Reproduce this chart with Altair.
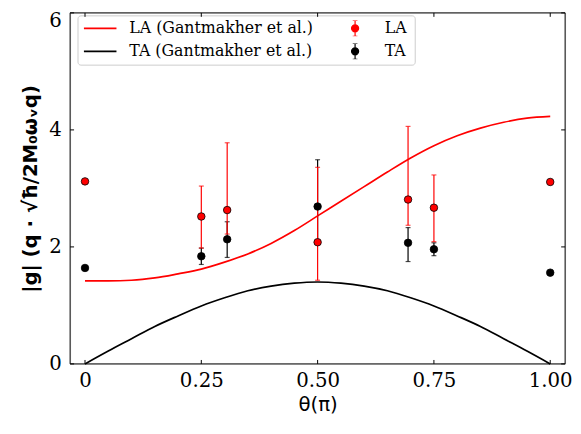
import altair as alt
import pandas as pd

# ---- data ----
curve_theta = [0.0, 0.05, 0.10, 0.15, 0.20, 0.25, 0.30, 0.35, 0.40, 0.45, 0.50,
               0.55, 0.60, 0.65, 0.70, 0.75, 0.80, 0.85, 0.90, 0.95, 1.0]
la_curve = [1.42, 1.42, 1.43, 1.47, 1.54, 1.62, 1.74, 1.88, 2.06, 2.28, 2.53,
            2.78, 3.03, 3.28, 3.52, 3.73, 3.90, 4.03, 4.13, 4.20, 4.23]
ta_curve = [0.0, 0.22, 0.43, 0.64, 0.82, 0.99, 1.13, 1.25, 1.33, 1.38, 1.40,
            1.38, 1.33, 1.25, 1.13, 0.99, 0.82, 0.64, 0.43, 0.22, 0.0]

pt_theta = [0.0, 0.25, 0.3056, 0.5, 0.6944, 0.75, 1.0]
la_val = [3.12, 2.52, 2.63, 2.08, 2.81, 2.67, 3.11]
la_lo = [None, 1.98, 2.22, 1.43, 2.37, 2.09, None]
la_hi = [None, 3.04, 3.78, 3.36, 4.06, 3.23, None]
ta_val = [1.64, 1.84, 2.13, 2.69, 2.07, 1.96, 1.56]
ta_lo = [None, 1.70, 1.82, 2.05, 1.75, 1.85, None]
ta_hi = [None, 1.98, 2.43, 3.49, 2.33, 2.07, None]

curve_names = ["LA (Gantmakher et al.)", "TA (Gantmakher et al.)"]
point_names = ["LA", "TA"]
x_ticks = [0, 0.25, 0.5, 0.75, 1.0]
y_ticks = [0, 2, 4, 6]

# ---- tables ----
curves = pd.concat([
    pd.DataFrame({"theta": curve_theta, "g": la_curve, "series": curve_names[0]}),
    pd.DataFrame({"theta": curve_theta, "g": ta_curve, "series": curve_names[1]}),
])
la_df = pd.DataFrame({"theta": pt_theta, "g": la_val, "lo": la_lo, "hi": la_hi, "series": "LA"})
ta_df = pd.DataFrame({"theta": pt_theta, "g": ta_val, "lo": ta_lo, "hi": ta_hi, "series": "TA"})
pts = pd.concat([la_df, ta_df])
xt = pd.DataFrame({"t": x_ticks})
yt = pd.DataFrame({"t": y_ticks})

W, H = 502, 356
RED = "#ff0000"
SERIF = "DejaVu Serif"
xs = alt.Scale(domain=[-0.032, 1.032], nice=False, zero=False)
ys = alt.Scale(domain=[0, 6], nice=False, zero=False)

x_axis = alt.Axis(values=x_ticks, title="θ(π)",
                  labelExpr="datum.value == 0 ? '0' : format(datum.value, '.2f')",
                  labelFont=SERIF, labelFontSize=20, labelColor="black",
                  titleFont="DejaVu Sans", titleFontSize=20, titleFontWeight="normal",
                  titleColor="black", titlePadding=4,
                  ticks=False, tickSize=0, domain=False, grid=False, labelPadding=7,
                  labelFlush=False)
y_axis = alt.Axis(values=y_ticks, title="|g| (q · √ħ/2M₀ωᵥq)", format="d",
                  labelFont=SERIF, labelFontSize=20, labelColor="black",
                  labelOffset={"condition": {"test": "datum.value == 6", "value": 8},
                               "value": 0},
                  titleFont="DejaVu Sans", titleFontSize=20, titleFontWeight="bold",
                  titleColor="black", titlePadding=8,
                  ticks=False, tickSize=0, domain=False, grid=False, labelPadding=9,
                  labelFlush=False)


def X(field):
    return alt.X(field, scale=xs, axis=x_axis)


def Y(field):
    return alt.Y(field, scale=ys, axis=y_axis)


lines = alt.Chart(curves).mark_line(strokeWidth=1.7, interpolate="monotone").encode(
    x=X("theta:Q"),
    y=Y("g:Q"),
    color=alt.Color("series:N",
                    scale=alt.Scale(domain=curve_names, range=[RED, "black"]),
                    legend=alt.Legend(orient="none", legendX=13, legendY=7.7,
                                      symbolType="stroke", symbolSize=1089,
                                      symbolStrokeWidth=1.6,
                                      labelFont=SERIF, labelFontSize=16,
                                      labelColor="black", labelOffset=12,
                                      labelLimit=400,
                                      rowPadding=7.3, clipHeight=16, padding=0,
                                      title=None)),
)


def err_layers(df, color):
    base = alt.Chart(df)
    rule = base.mark_rule(color=color, strokeWidth=1.2).encode(
        x=X("theta:Q"), y=Y("lo:Q"), y2="hi:Q")
    cap_lo = base.mark_tick(color=color, orient="horizontal", size=5, thickness=1.2).encode(
        x=X("theta:Q"), y=Y("lo:Q"))
    cap_hi = base.mark_tick(color=color, orient="horizontal", size=5, thickness=1.2).encode(
        x=X("theta:Q"), y=Y("hi:Q"))
    return [rule, cap_lo, cap_hi]


def pt_layer(df, color):
    return alt.Chart(df).mark_point(filled=True, fill=color, stroke="black",
                                    strokeWidth=0.8, size=58, opacity=1).encode(
        x=X("theta:Q"), y=Y("g:Q"))


legend_box = alt.Chart(pd.DataFrame({"a": [0]})).mark_rect(
    fill="white", stroke="#cccccc", strokeWidth=1, cornerRadius=3).encode(
    x=alt.value(8), x2=alt.value(350), y=alt.value(3), y2=alt.value(53))

frame = alt.Chart(pd.DataFrame({"a": [0]})).mark_rect(
    fillOpacity=0, stroke="black", strokeWidth=1).encode(
    x=alt.value(0), x2=alt.value(W), y=alt.value(0), y2=alt.value(H))

eb_path = ("M0,-1L0,1M-0.3,-1L0.3,-1M-0.3,1L0.3,1"
           "M0.45,0A0.45,0.45,0,1,1,-0.45,0A0.45,0.45,0,1,1,0.45,0Z")
pt_legend = alt.Legend(orient="none", legendX=280, legendY=7.7,
                       symbolType=eb_path, symbolSize=256, symbolStrokeWidth=1.2,
                       symbolOpacity=1,
                       labelFont=SERIF, labelFontSize=16, labelColor="black",
                       labelOffset=21, labelLimit=200,
                       rowPadding=7.3, clipHeight=16, padding=0,
                       title=None)
pt_scale = alt.Scale(domain=point_names, range=[RED, "black"])
legend_pts = alt.Chart(pts).mark_point(filled=True, opacity=0, size=1).encode(
    x=X("theta:Q"), y=Y("g:Q"),
    fill=alt.Fill("series:N", scale=pt_scale, legend=pt_legend),
    stroke=alt.Stroke("series:N", scale=pt_scale, legend=pt_legend),
)

tick_bottom = alt.Chart(xt).mark_rule(color="black", strokeWidth=1).encode(
    x=X("t:Q"), y=alt.value(H - 4), y2=alt.value(H))
tick_top = alt.Chart(xt).mark_rule(color="black", strokeWidth=1).encode(
    x=X("t:Q"), y=alt.value(0), y2=alt.value(4))
tick_left = alt.Chart(yt).mark_rule(color="black", strokeWidth=1).encode(
    y=Y("t:Q"), x=alt.value(0), x2=alt.value(4))
tick_right = alt.Chart(yt).mark_rule(color="black", strokeWidth=1).encode(
    y=Y("t:Q"), x=alt.value(W - 4), x2=alt.value(W))

layers = [lines]
layers += err_layers(ta_df, "black")
layers += err_layers(la_df, RED)
layers += [pt_layer(ta_df, "black"), pt_layer(la_df, RED)]
layers += [legend_box, legend_pts, tick_bottom, tick_top, tick_left, tick_right, frame]

chart = alt.layer(*layers).properties(
    width=W, height=H,
    autosize=alt.AutoSizeParams(type="none"),
    padding={"left": 63, "top": 2, "right": 8, "bottom": 60},
).configure_view(stroke=None).configure(background="white")

chart.save("out.html", embed_options={"renderer": "svg", "actions": False})
